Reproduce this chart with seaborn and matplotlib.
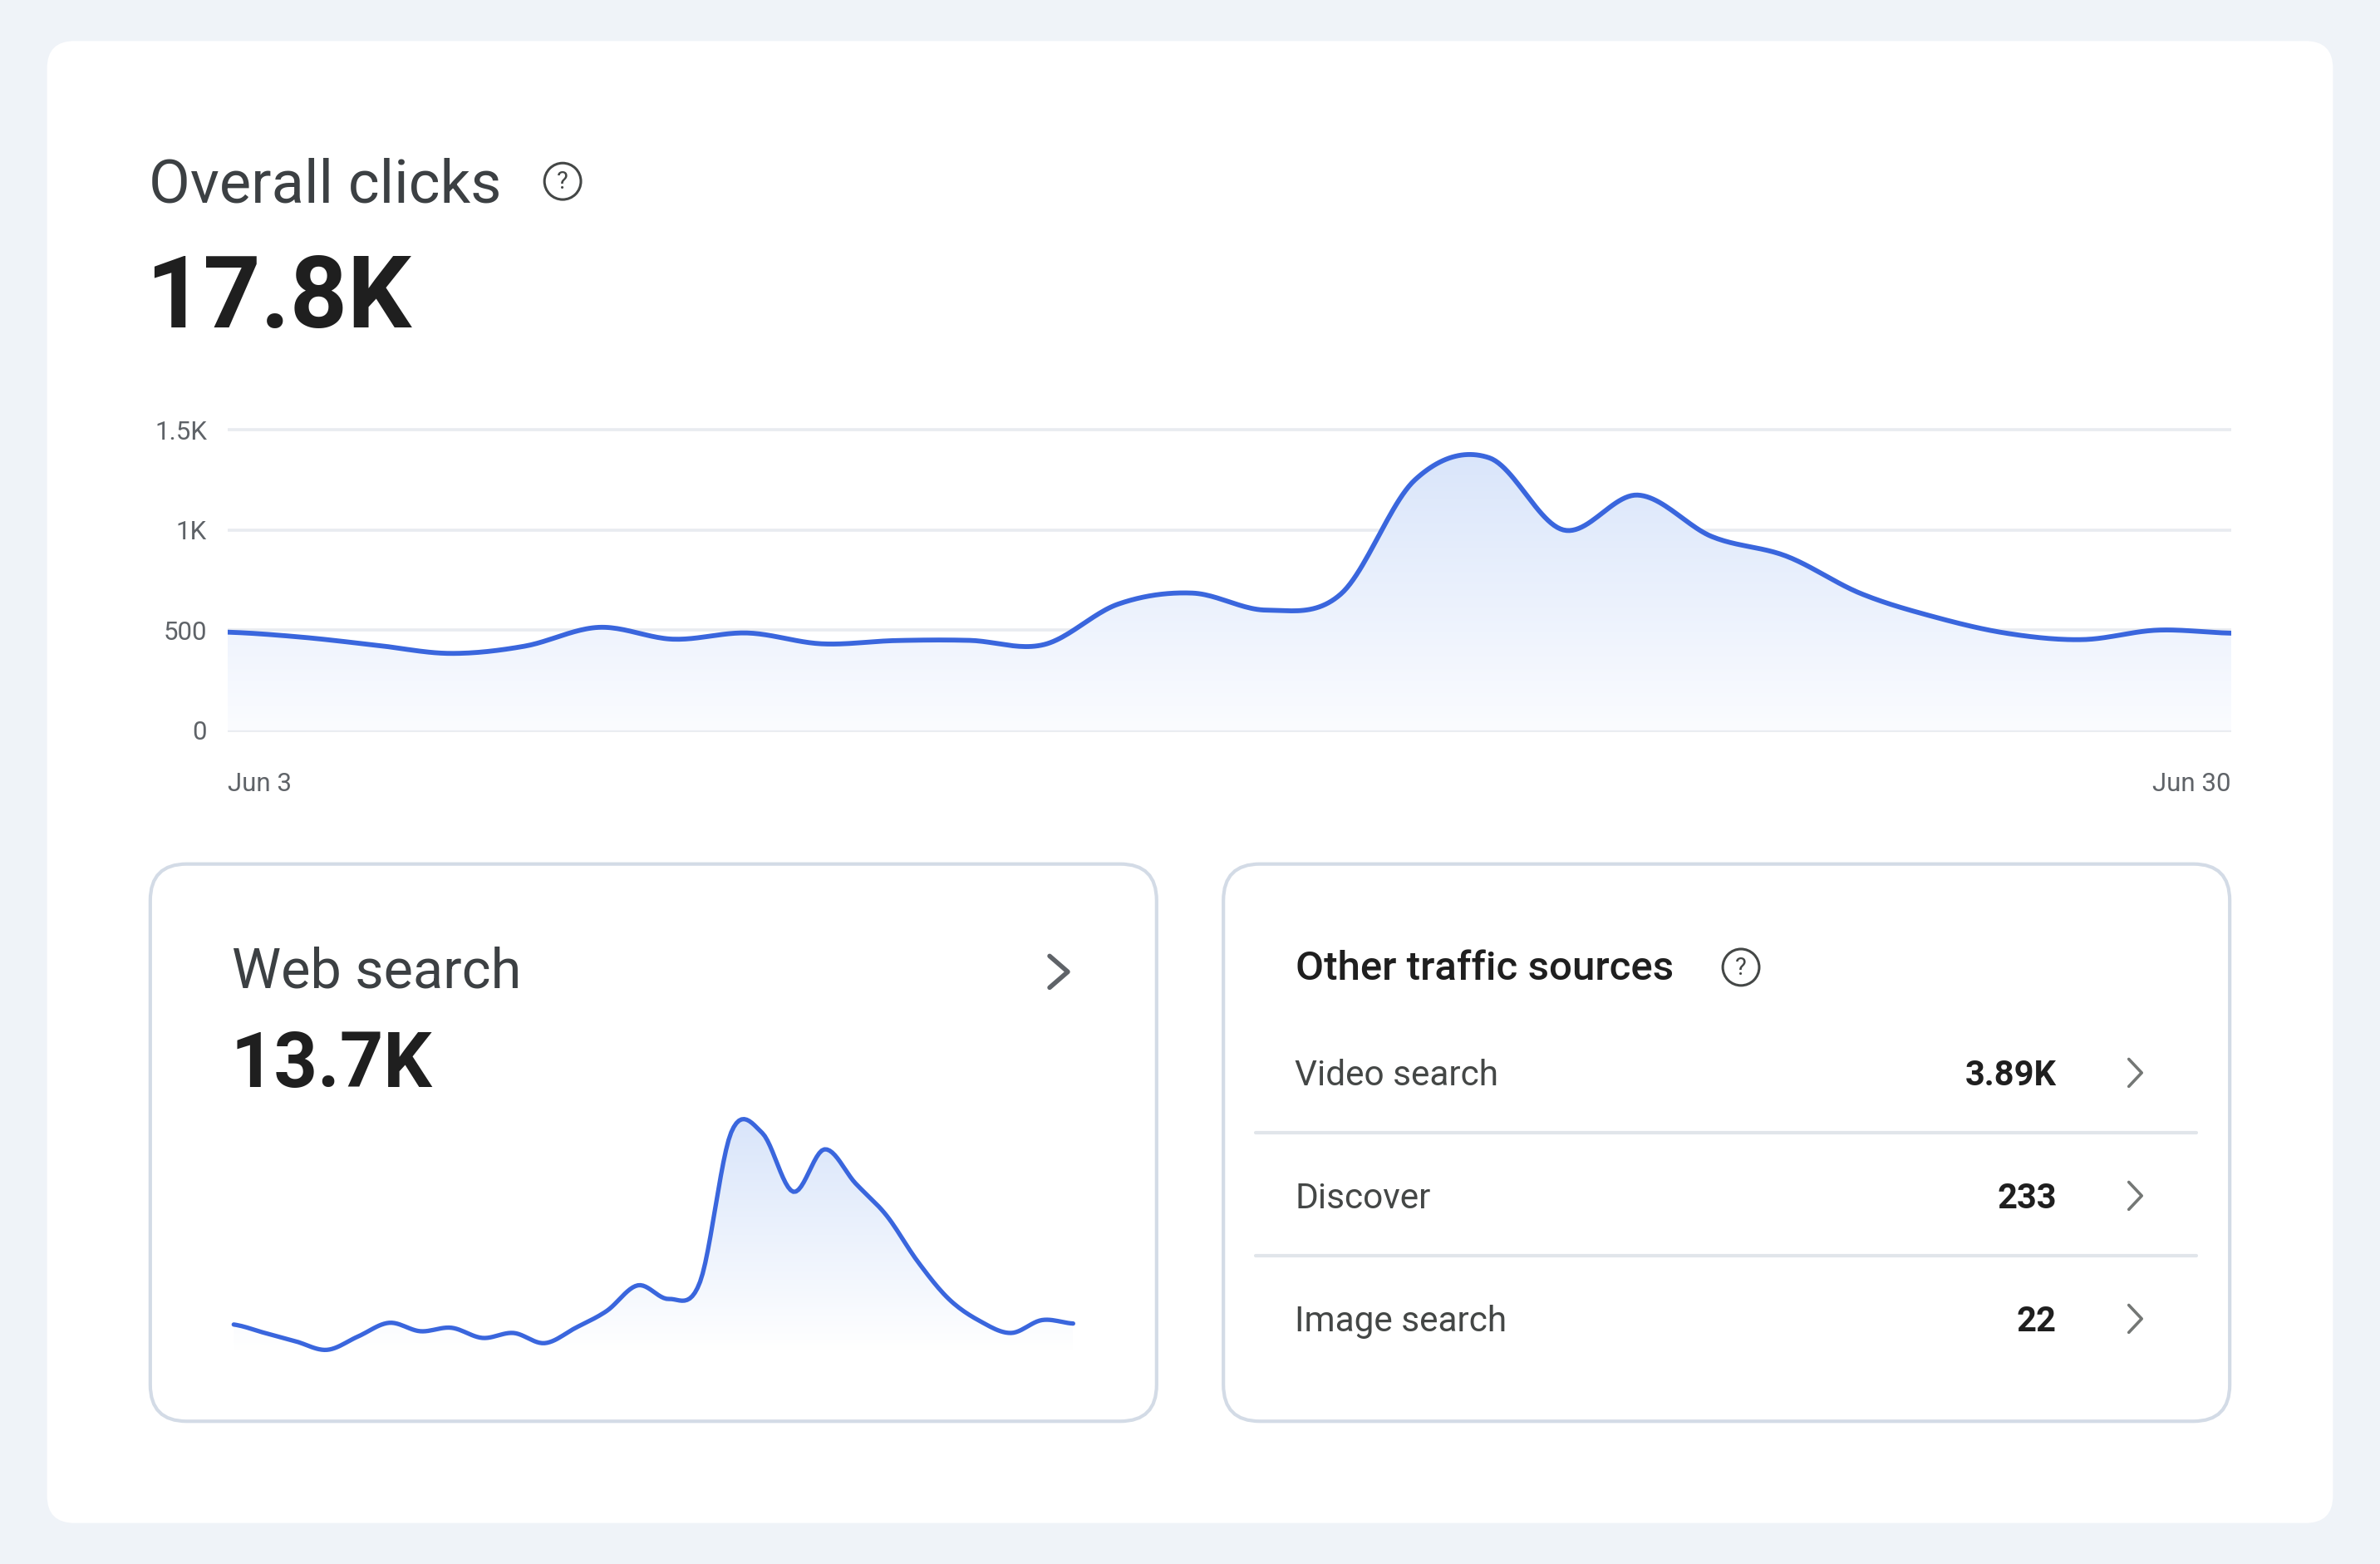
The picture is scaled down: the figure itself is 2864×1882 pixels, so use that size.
import numpy as np
import pandas as pd
import matplotlib
matplotlib.use("Agg")
import matplotlib.pyplot as plt
import seaborn as sns
from matplotlib.patches import FancyBboxPatch, Circle, PathPatch
from matplotlib.colors import LinearSegmentedColormap

# --- data (daily clicks, Jun 3 .. Jun 30) ---
days = list(range(3, 31))
overall_clicks = [490, 465, 425, 384, 420, 514, 455, 486, 432, 448, 449, 428, 630, 685,
                  600, 680, 1250, 1360, 1000, 1174, 967, 870, 684, 566, 483, 453, 500, 485]
web_clicks = [338, 304, 270, 236, 290, 345, 311, 325, 284, 304, 263, 325, 393, 496,
              441, 510, 1112, 1110, 873, 1044, 907, 777, 592, 441, 352, 304, 356, 342]
y_ticks = [0, 500, 1000, 1500]
y_tick_labels = ["0", "500", "1K", "1.5K"]
x_tick_labels = ["Jun 3", "Jun 30"]

overall_total = "17.8K"
web_total = "13.7K"
other_sources = ["Video search", "Discover", "Image search"]
other_values = ["3.89K", "233", "22"]

BLUE = "#3a66dd"
BG = "#eff3f8"

sns.set_theme(style="white")
plt.rcParams["font.family"] = ["Roboto", "DejaVu Sans"]


def catmull_rom(xs, ys, n=24):
    # smooth curve through the daily points (drawing only)
    xs = np.asarray(xs, float)
    p = np.asarray(ys, float)
    p = np.concatenate([[p[0]], p, [p[-1]]])
    out_x, out_y = [], []
    t = np.linspace(0, 1, n, endpoint=False)
    for i in range(len(xs) - 1):
        p0, p1, p2, p3 = p[i], p[i + 1], p[i + 2], p[i + 3]
        yy = 0.5 * (2 * p1 + (-p0 + p2) * t + (2 * p0 - 5 * p1 + 4 * p2 - p3) * t ** 2
                    + (-p0 + 3 * p1 - 3 * p2 + p3) * t ** 3)
        out_x.extend(xs[i] + t * (xs[i + 1] - xs[i]))
        out_y.extend(yy)
    out_x.append(xs[-1])
    out_y.append(p[-2])
    return np.array(out_x), np.array(out_y)


def gradient_under(ax, x, y, y0, y1, c_top, c_bot):
    poly = ax.fill_between(x, y, y0, color="none", lw=0)
    clip = PathPatch(poly.get_paths()[0], transform=ax.transData, fc="none", ec="none")
    ax.add_patch(clip)
    cmap = LinearSegmentedColormap.from_list("g", [c_bot, c_top])
    grad = np.linspace(0, 1, 256).reshape(-1, 1)
    im = ax.imshow(grad, cmap=cmap, aspect="auto", origin="lower",
                   extent=[min(x), max(x), y0, y1], zorder=1)
    im.set_clip_path(clip)


fig = plt.figure(figsize=(28.64, 18.82), dpi=100)
fig.patch.set_facecolor(BG)

# background layer in screen units of the dashboard
bg = fig.add_axes([0, 0, 1, 1], zorder=0)
bg.set_xlim(0, 1568)
bg.set_ylim(1030, 0)
bg.axis("off")

bg.add_patch(FancyBboxPatch((31, 27), 1506, 976, boxstyle="round,pad=0,rounding_size=18",
                            fc="white", ec="none"))
for x0 in (99, 806):
    bg.add_patch(FancyBboxPatch((x0, 569), 663, 367, boxstyle="round,pad=0,rounding_size=24",
                                fc="white", ec="#d3dbe6", lw=3))

# header
bg.text(98, 133.5, "Overall clicks", fontsize=52, color="#3c4043", va="baseline")
bg.text(96, 215.5, overall_total, fontsize=87, fontweight="bold", color="#1f1f1f", va="baseline")
for cx, cy in [(370.7, 119.4), (1147, 637)]:
    bg.add_patch(Circle((cx, cy), 12, fc="none", ec="#444746", lw=2.2))
    bg.text(cx, cy + 0.5, "?", fontsize=21, color="#444746", ha="center", va="center")

# main chart
ax = fig.add_axes([150 / 1568, 1 - 484 / 1030, 1320 / 1568, 204 / 1030], zorder=2)
ax.set_facecolor("none")
sx, sy = catmull_rom(days, overall_clicks)
gradient_under(ax, sx, sy, 0, 1400, "#d9e5fa", "#fbfcff")
df_main = pd.DataFrame({"day": sx, "clicks": sy})
sns.lineplot(data=df_main, x="day", y="clicks", ax=ax, color=BLUE, lw=4.2,
             estimator=None, sort=False, zorder=3)
for v in y_ticks:
    ax.axhline(v, color="#e8ebf0", lw=2.6, zorder=0.5)
unit = 1500 / 198
ax.set_ylim(-3 * unit, 1500 + 3 * unit)
ax.set_xlim(days[0], days[-1])
ax.set_yticks(y_ticks)
ax.set_yticklabels(y_tick_labels)
ax.set_xticks([days[0], days[-1]])
ax.set_xticklabels(x_tick_labels)
ax.tick_params(axis="both", length=0, labelsize=22.5, labelcolor="#5f6368")
ax.tick_params(axis="y", pad=18)
ax.tick_params(axis="x", pad=32)
xl = ax.get_xticklabels()
xl[0].set_ha("left")
xl[-1].set_ha("right")
ax.set_xlabel("")
ax.set_ylabel("")
sns.despine(ax=ax, left=True, bottom=True)

# web search card
bg.text(153, 650.5, "Web search", fontsize=48, color="#3c4043", va="baseline")
bg.text(152, 716, web_total, fontsize=66, fontweight="bold", color="#1f1f1f", va="baseline")
bg.plot([691.5, 703.5, 691.5], [629.6, 640, 650.4], color="#5f6368", lw=4,
        solid_capstyle="round", solid_joinstyle="round")

ax2 = fig.add_axes([154 / 1568, 1 - 889 / 1030, 553 / 1568, 152 / 1030], zorder=2)
ax2.set_facecolor("none")
wx, wy = catmull_rom(days, web_clicks, n=12)
gradient_under(ax2, wx, wy, wy.min() - 10, wy.max(), "#d9e5fa", "#ffffff")
df_web = pd.DataFrame({"day": wx, "clicks": wy})
sns.lineplot(data=df_web, x="day", y="clicks", ax=ax2, color=BLUE, lw=3.8,
             estimator=None, sort=False, zorder=3, clip_on=False)
ax2.set_xlim(days[0], days[-1])
ax2.set_ylim(wy.min(), wy.max())
ax2.axis("off")

# other traffic sources card
bg.text(853.5, 645.5, "Other traffic sources", fontsize=35.5, fontweight="medium",
        color="#1f1f1f", va="baseline")
row_base = [714.5, 795.5, 876.5]
for label, val, yb in zip(other_sources, other_values, row_base):
    bg.text(853, yb, label, fontsize=30.5, color="#444746", va="baseline")
    bg.text(1355, yb, val, fontsize=30, fontweight="bold", color="#1f1f1f",
            va="baseline", ha="right")
    yc = yb - 8
    bg.plot([1402.5, 1411, 1402.5], [yc - 9, yc, yc + 9], color="#747775", lw=2.6,
            solid_capstyle="round", solid_joinstyle="round")
for ysep in (746, 827):
    bg.plot([827, 1447], [ysep, ysep], color="#e1e5ea", lw=3)

fig.savefig("out.png", dpi=100, facecolor=BG)
